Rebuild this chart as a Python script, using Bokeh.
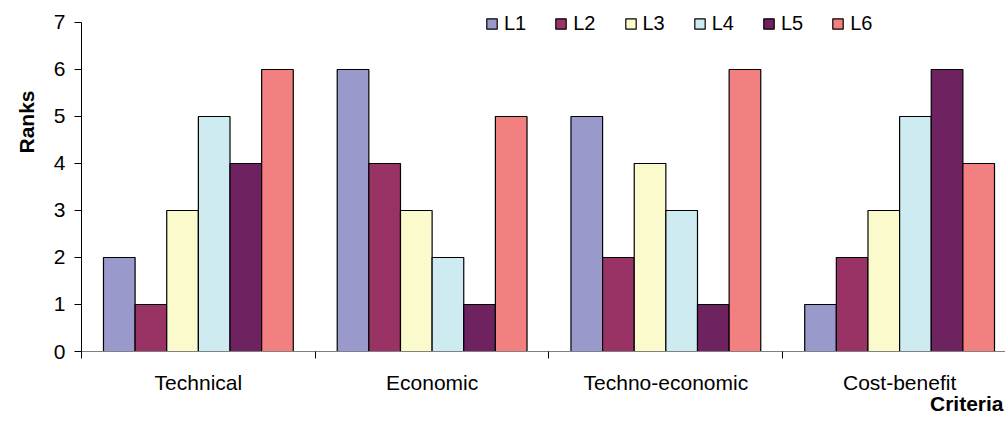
from bokeh.plotting import figure
from bokeh.models import Range1d, FixedTicker, Legend, LegendItem, ColumnDataSource, Title
from bokeh.embed import file_html
from bokeh.resources import INLINE

categories = ["Technical", "Economic", "Techno-economic", "Cost-benefit"]
series_names = ["L1", "L2", "L3", "L4", "L5", "L6"]
L1 = [2, 6, 5, 1]
L2 = [1, 4, 2, 2]
L3 = [3, 3, 4, 3]
L4 = [5, 2, 3, 5]
L5 = [4, 1, 1, 6]
L6 = [6, 5, 6, 4]
series_values = [L1, L2, L3, L4, L5, L6]
colors = ["#9999CC", "#993366", "#FAFACC", "#CDEBF0", "#6E2360", "#F28080"]
y_ticks = [0, 1, 2, 3, 4, 5, 6, 7]

FONT = "Liberation Sans"
n_series = len(series_names)
group_pad = 0.094
bar_w = (1 - 2 * group_pad) / n_series

p = figure(width=1005, height=441, output_backend="svg", toolbar_location=None,
           x_range=Range1d(0, 3.953), y_range=Range1d(0, 7.468),
           min_border_left=80, min_border_right=0, min_border_top=0, min_border_bottom=90)
p.outline_line_color = None
p.xgrid.grid_line_color = None
p.ygrid.grid_line_color = None
p.background_fill_color = "white"
p.border_fill_color = "white"

items = []
for k, (name, vals, col) in enumerate(zip(series_names, series_values, colors)):
    xs = [i + group_pad + bar_w * (k + 0.5) for i in range(len(categories))]
    src = ColumnDataSource(dict(x=xs, top=vals))
    r = p.vbar(x="x", top="top", bottom=0, width=bar_w, source=src,
               fill_color=col, line_color="black", line_width=1.2)
    items.append(LegendItem(label=name, renderers=[r]))

# x axis
xa = p.xaxis[0]
xa.ticker = FixedTicker(ticks=[i + 0.5 for i in range(len(categories))],
                        minor_ticks=list(range(len(categories) + 1)))
xa.major_label_overrides = {i + 0.5: c for i, c in enumerate(categories)}
xa.major_tick_out = 0
xa.major_tick_in = 0
xa.minor_tick_out = 7
xa.minor_tick_in = 0
xa.minor_tick_line_color = "black"
xa.axis_line_color = "#808080"
xa.major_label_standoff = 12
xa.major_label_text_font = FONT
xa.major_label_text_font_size = "21px"
xa.major_label_text_color = "black"

ya = p.yaxis[0]
ya.ticker = FixedTicker(ticks=y_ticks)
ya.bounds = (0, 7)
ya.major_tick_out = 7
ya.major_tick_in = 0
ya.minor_tick_line_color = None
ya.axis_line_color = "black"
ya.major_tick_line_color = "black"
ya.major_label_standoff = 9
ya.major_label_text_font = FONT
ya.major_label_text_font_size = "21px"
ya.major_label_text_color = "black"

p.add_layout(Title(text="Ranks", align="right", offset=90, standoff=25,
                   text_line_height=0.7,
                   text_font=FONT, text_font_size="21px", text_font_style="bold",
                   text_color="black"), "left")
p.add_layout(Title(text="Criteria", align="right", offset=2, standoff=-13,
                   text_font=FONT, text_font_size="21px", text_font_style="bold",
                   text_color="black"), "below")

legend = Legend(items=items, orientation="horizontal", location=(404, 316),
                glyph_width=13, glyph_height=13, label_height=20, label_standoff=6,
                spacing=28, padding=0, margin=0,
                border_line_color=None, background_fill_alpha=0,
                label_text_font=FONT, label_text_font_size="20px",
                label_text_color="black")
p.add_layout(legend)

open("out.html", "w").write(file_html(p, INLINE))
